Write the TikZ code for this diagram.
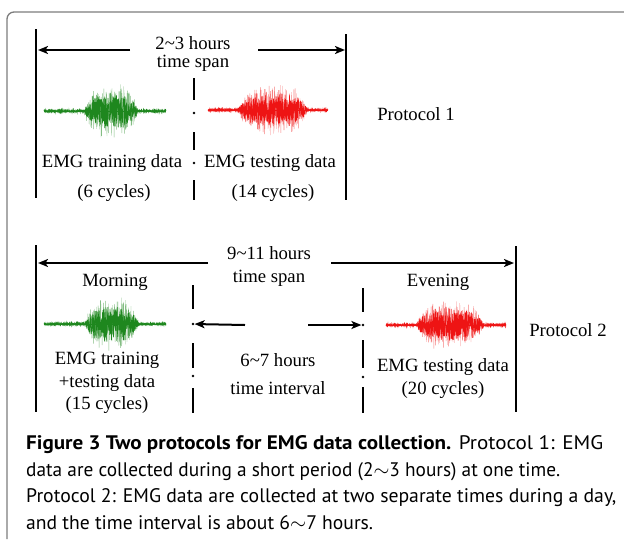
\documentclass[tikz,border=0pt]{standalone}
\usepackage{fontspec}
\usepackage{graphicx}
\setmainfont{Liberation Serif}
\newfontfamily\capfont{PT Sans}
\usetikzlibrary{arrows.meta}
\definecolor{framegray}{RGB}{125,125,125}
\definecolor{siggreen}{RGB}{30,135,30}
\definecolor{sigred}{RGB}{238,20,20}
\newcommand{\emgsig}[7]{%
  \draw[#7, line width=0.35pt, opacity=0.55] plot[domain=#1:#2, samples=900]
    (\x, {#5 + (1.0 + #6*(0.5+0.5*rnd)*max(0,1-(abs(\x-#3)/#4)^4))*rand});
  \draw[#7, line width=0.55pt] plot[domain=#1:#2, samples=800]
    (\x, {#5 + (0.9 + 0.65*#6*(0.6+0.4*rnd)*max(0,1-(abs(\x-#3)/#4)^4))*rand});
  \draw[#7, line width=0.9pt] (#1,#5) -- (#2,#5);
}
\newcommand{\capline}[2]{\resizebox{#1}{\height}{#2}}
\begin{document}
\begin{tikzpicture}[x=1pt,y=1pt,
  bar/.style={line width=2.4pt},
  span/.style={line width=2pt,-{Stealth[length=10pt,width=8pt,inset=2.5pt]}},
  sepline/.style={line width=2pt},
  sepdot/.style={circle, fill, inner sep=0pt, minimum size=2.8pt},
  lbl/.style={inner sep=0pt, font=\fontsize{18.7}{20}\selectfont},
  captxt/.style={inner sep=0pt, anchor=west, font=\capfont\fontsize{19.6}{22}\selectfont}]
\pgfmathsetseed{7}
\useasboundingbox (0,0) rectangle (624,-539);
% frame
\draw[framegray, line width=1.3pt, rounded corners=7pt] (624,-12) -- (7,-12) -- (7,-539);

% ================= Protocol 1 =================
\coordinate (p1l1) at (36,-29);  \coordinate (p1l2) at (36,-198);
\coordinate (p1r1) at (346,-34); \coordinate (p1r2) at (346,-200);
\draw[bar] (p1l1) -- (p1l2);
\draw[bar] (p1r1) -- (p1r2);
\node[lbl] (hrs1) at (193,-43) {2\textasciitilde3 hours};
\node[lbl] (span1) at (193,-63) {time span};
\coordinate (a1l) at (130,-50); \coordinate (a1lt) at (38,-50);
\coordinate (a1r) at (258,-50); \coordinate (a1rt) at (345,-50);
\draw[span] (a1l) -- (a1lt);
\draw[span] (a1r) -- (a1rt);
% separator
\draw[sepline] (194,-78) -- (194,-100);
\draw[sepline] (194,-132) -- (194,-150);
\draw[sepline] (194,-180) -- (194,-200);
\node[sepdot] (d11) at (194,-113) {};
\node[sepdot] (d12) at (194,-163) {};
% signals
\emgsig{44}{166}{111}{27}{-111}{28}{siggreen}
\emgsig{208}{328}{273}{35}{-110}{26}{sigred}
\node[lbl] (train1) at (112,-163) {EMG training data};
\node[lbl] (test1) at (270,-163) {EMG testing data};
\node[lbl] (cyc6) at (114,-193) {(6 cycles)};
\node[lbl] (cyc14) at (273,-193) {(14 cycles)};
\node[lbl] (prot1) at (416,-114) {Protocol 1};

% ================= Protocol 2 =================
\coordinate (p2l1) at (36,-245);  \coordinate (p2l2) at (36,-412);
\coordinate (p2r1) at (516,-246); \coordinate (p2r2) at (516,-412);
\draw[bar] (p2l1) -- (p2l2);
\draw[bar] (p2r1) -- (p2r2);
\node[lbl] (hrs2) at (269,-253) {9\textasciitilde11 hours};
\node[lbl] (span2) at (269,-278) {time span};
\coordinate (a2l) at (208,-263); \coordinate (a2lt) at (38,-263);
\coordinate (a2r) at (331,-263); \coordinate (a2rt) at (514,-263);
\draw[span] (a2l) -- (a2lt);
\draw[span] (a2r) -- (a2rt);
\node[lbl] (morn) at (115,-282) {Morning};
\node[lbl] (even) at (438,-282) {Evening};
% separators
\draw[sepline] (193,-285) -- (193,-309);
\draw[sepline] (193,-343) -- (193,-368);
\draw[sepline] (193,-388) -- (193,-413);
\node[sepdot] (d21) at (193,-324) {};
\node[sepdot] (d22) at (193,-376) {};
\draw[sepline] (363,-288) -- (363,-312);
\draw[sepline] (363,-340) -- (363,-368);
\draw[sepline] (363,-387) -- (363,-413);
\node[sepdot] (d23) at (363,-325) {};
\node[sepdot] (d24) at (363,-377) {};
% interval arrows
\coordinate (m1) at (245,-325); \coordinate (m2) at (308,-325);
\draw[span] (m1) -- (d21);
\draw[span] (m2) -- (d23);
% signals
\emgsig{44}{166}{112}{27}{-324}{27}{siggreen}
\emgsig{386}{506}{450}{34}{-325}{25}{sigred}
\node[lbl] (train2) at (107,-360) {EMG training};
\node[lbl] (train2b) at (107,-383) {+testing data};
\node[lbl] (cyc15) at (107,-405) {(15 cycles)};
\node[lbl] (int1) at (278,-360) {6\textasciitilde7 hours};
\node[lbl] (int2) at (278,-388) {time interval};
\node[lbl] (test2) at (443,-367) {EMG testing data};
\node[lbl] (cyc20) at (443,-390) {(20 cycles)};
\node[lbl] (prot2) at (568,-330) {Protocol 2};

% ================= Caption =================
\node[captxt] (c1) at (26,-445) {\capline{577pt}{\bfseries Figure 3 Two protocols for EMG data collection.\mdseries{} Protocol 1: EMG}};
\node[captxt] (c2) at (26,-472) {\capline{534pt}{data are collected during a short period (2$\sim$3 hours) at one time.}};
\node[captxt] (c3) at (26,-498) {\capline{590pt}{Protocol 2: EMG data are collected at two separate times during a day,}};
\node[captxt] (c4) at (26,-523) {\capline{347pt}{and the time interval is about 6$\sim$7 hours.}};
\end{tikzpicture}
\end{document}
